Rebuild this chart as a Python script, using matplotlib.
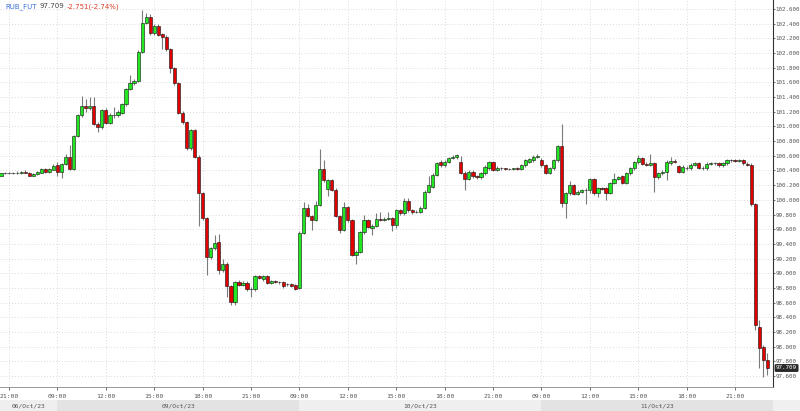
import numpy as np
import matplotlib
matplotlib.use("Agg")
import matplotlib.pyplot as plt
import matplotlib.transforms as mtransforms

# 15-minute candles, overnight gaps removed (index = candle number)
opens = [
    100.33, 100.36, 100.37, 100.36, 100.37, 100.36, 100.38, 100.37, 100.33, 100.35,
    100.37, 100.42, 100.38, 100.41,
    100.47, 100.38, 100.49, 100.59, 100.42, 100.87, 101.15, 101.28, 101.25, 101.28,
    101.04, 100.99, 101.23, 101.05, 101.16, 101.15, 101.19, 101.30, 101.51, 101.59,
    101.62, 102.02, 102.41, 102.49, 102.27, 102.37, 102.26, 102.22, 102.05, 101.79,
    101.59, 101.19, 101.06, 100.70, 100.95, 100.59, 100.09, 99.75, 99.22, 99.34,
    99.43, 99.04, 99.13, 98.82, 98.61, 98.88, 98.84, 98.87, 98.79, 98.78,
    98.96, 98.92, 98.96, 98.87, 98.89, 98.88, 98.88, 98.85, 98.86, 98.84,
    98.80, 99.55, 99.89, 99.78, 99.73, 99.93, 100.42, 100.15, 100.27, 100.14,
    99.78, 99.59, 99.90, 99.72, 99.25, 99.29, 99.56, 99.72, 99.62, 99.65,
    99.74, 99.73, 99.74, 99.75, 99.66, 99.86, 99.82, 99.98, 99.86, 99.83,
    99.84, 99.89, 100.11, 100.18, 100.34, 100.52, 100.47, 100.52, 100.57, 100.58,
    100.52, 100.37, 100.29, 100.38, 100.32, 100.31, 100.36, 100.43, 100.51, 100.41,
    100.43, 100.43, 100.42, 100.42, 100.43, 100.42, 100.47, 100.52, 100.54, 100.59,
    100.54, 100.47, 100.37, 100.43, 100.54, 100.73, 99.96, 100.09, 100.20, 100.08,
    100.11, 100.13, 100.13, 100.28, 100.09, 100.16, 100.16, 100.10, 100.23, 100.29,
    100.32, 100.23, 100.36, 100.43, 100.51, 100.57, 100.49, 100.48, 100.50, 100.31,
    100.36, 100.38, 100.50, 100.53, 100.46, 100.38, 100.44, 100.43, 100.48, 100.50,
    100.44, 100.43, 100.49, 100.50, 100.50, 100.47, 100.50, 100.54, 100.54, 100.53,
    100.54, 100.49, 100.48, 99.94, 98.27, 98.00, 97.82,
]
highs = [
    100.37, 100.38, 100.38, 100.38, 100.39, 100.39, 100.40, 100.38, 100.36, 100.39,
    100.43, 100.43, 100.43, 100.49,
    100.52, 100.50, 100.63, 100.75, 100.88, 101.17, 101.41, 101.37, 101.40, 101.40,
    101.06, 101.24, 101.25, 101.18, 101.27, 101.22, 101.32, 101.53, 101.70, 101.64,
    102.04, 102.59, 102.54, 102.53, 102.39, 102.40, 102.28, 102.24, 102.07, 101.81,
    101.61, 101.21, 101.08, 100.97, 100.97, 100.61, 100.11, 99.77, 99.36, 99.52,
    99.54, 99.20, 99.15, 98.84, 98.90, 98.91, 98.89, 98.89, 98.81, 98.98,
    98.98, 98.98, 98.98, 98.91, 98.91, 98.90, 98.90, 98.87, 98.87, 98.85,
    99.57, 99.97, 99.95, 99.80, 99.98, 100.69, 100.54, 100.29, 100.29, 100.16,
    99.80, 99.97, 99.92, 99.74, 99.31, 99.58, 99.80, 99.74, 99.67, 99.82,
    99.84, 99.76, 99.84, 99.77, 99.88, 99.88, 100.02, 100.02, 99.88, 99.86,
    99.91, 100.13, 100.32, 100.36, 100.52, 100.54, 100.54, 100.59, 100.61, 100.63,
    100.60, 100.39, 100.40, 100.40, 100.34, 100.38, 100.47, 100.53, 100.53, 100.46,
    100.45, 100.44, 100.44, 100.44, 100.45, 100.49, 100.56, 100.57, 100.61, 100.62,
    100.57, 100.49, 100.45, 100.56, 100.75, 101.04, 100.11, 100.26, 100.22, 100.13,
    100.15, 100.16, 100.30, 100.30, 100.18, 100.18, 100.18, 100.25, 100.36, 100.33,
    100.34, 100.38, 100.45, 100.53, 100.61, 100.59, 100.51, 100.63, 100.52, 100.38,
    100.40, 100.54, 100.58, 100.55, 100.48, 100.47, 100.46, 100.50, 100.52, 100.52,
    100.46, 100.51, 100.52, 100.52, 100.52, 100.52, 100.56, 100.56, 100.56, 100.55,
    100.56, 100.51, 100.50, 99.96, 98.36, 98.02, 97.92,
]
lows = [
    100.32, 100.35, 100.35, 100.35, 100.35, 100.35, 100.36, 100.32, 100.32, 100.34,
    100.36, 100.37, 100.37, 100.40,
    100.33, 100.30, 100.47, 100.40, 100.40, 100.85, 101.13, 101.20, 101.23, 101.02,
    100.92, 100.97, 101.03, 101.03, 101.11, 101.13, 101.17, 101.28, 101.49, 101.57,
    101.60, 102.00, 102.39, 102.25, 102.25, 102.23, 102.05, 102.03, 101.73, 101.57,
    101.17, 101.04, 100.68, 100.68, 100.57, 99.65, 99.73, 98.97, 99.20, 99.32,
    98.99, 99.02, 98.68, 98.57, 98.57, 98.83, 98.82, 98.76, 98.68, 98.76,
    98.92, 98.90, 98.85, 98.85, 98.87, 98.86, 98.80, 98.83, 98.81, 98.77,
    98.78, 99.53, 99.76, 99.59, 99.71, 99.91, 100.25, 100.05, 100.12, 99.76,
    99.55, 99.57, 99.70, 99.23, 99.13, 99.27, 99.54, 99.61, 99.52, 99.63,
    99.71, 99.71, 99.72, 99.58, 99.61, 99.80, 99.80, 99.84, 99.81, 99.82,
    99.82, 99.87, 100.09, 100.16, 100.32, 100.45, 100.45, 100.50, 100.55, 100.56,
    100.35, 100.13, 100.27, 100.30, 100.29, 100.29, 100.34, 100.41, 100.39, 100.39,
    100.41, 100.41, 100.40, 100.41, 100.41, 100.41, 100.45, 100.50, 100.52, 100.57,
    100.45, 100.35, 100.35, 100.41, 100.52, 99.90, 99.75, 100.07, 100.06, 100.06,
    100.09, 99.95, 100.10, 100.07, 100.04, 100.13, 100.00, 100.08, 100.21, 100.27,
    100.21, 100.21, 100.34, 100.41, 100.49, 100.47, 100.46, 100.46, 100.11, 100.29,
    100.34, 100.27, 100.48, 100.50, 100.36, 100.36, 100.41, 100.41, 100.46, 100.42,
    100.41, 100.41, 100.47, 100.48, 100.45, 100.45, 100.48, 100.52, 100.51, 100.52,
    100.48, 100.46, 99.92, 98.23, 97.71, 97.59, 97.62,
]
closes = [
    100.36, 100.37, 100.36, 100.37, 100.36, 100.38, 100.37, 100.33, 100.35, 100.38,
    100.42, 100.38, 100.42, 100.46,
    100.38, 100.49, 100.59, 100.42, 100.87, 101.15, 101.28, 101.25, 101.28, 101.04,
    100.99, 101.22, 101.05, 101.16, 101.15, 101.20, 101.30, 101.51, 101.59, 101.62,
    102.02, 102.41, 102.49, 102.27, 102.37, 102.25, 102.22, 102.05, 101.79, 101.59,
    101.19, 101.06, 100.70, 100.95, 100.59, 100.09, 99.75, 99.22, 99.34, 99.41,
    99.04, 99.13, 98.82, 98.61, 98.88, 98.84, 98.87, 98.78, 98.78, 98.96,
    98.94, 98.96, 98.87, 98.89, 98.88, 98.88, 98.82, 98.85, 98.82, 98.79,
    99.55, 99.89, 99.78, 99.73, 99.93, 100.42, 100.27, 100.27, 100.14, 99.78,
    99.59, 99.90, 99.72, 99.25, 99.29, 99.56, 99.72, 99.63, 99.65, 99.74,
    99.73, 99.74, 99.75, 99.66, 99.86, 99.82, 99.98, 99.86, 99.83, 99.84,
    99.89, 100.11, 100.20, 100.34, 100.50, 100.47, 100.52, 100.57, 100.59, 100.61,
    100.37, 100.29, 100.38, 100.32, 100.31, 100.36, 100.45, 100.51, 100.41, 100.44,
    100.43, 100.42, 100.42, 100.43, 100.42, 100.47, 100.54, 100.55, 100.59, 100.60,
    100.47, 100.37, 100.43, 100.54, 100.73, 99.96, 100.09, 100.20, 100.08, 100.11,
    100.13, 100.14, 100.28, 100.09, 100.16, 100.15, 100.10, 100.23, 100.29, 100.31,
    100.23, 100.36, 100.43, 100.51, 100.57, 100.49, 100.48, 100.50, 100.31, 100.36,
    100.38, 100.52, 100.53, 100.52, 100.38, 100.45, 100.43, 100.48, 100.50, 100.44,
    100.43, 100.49, 100.50, 100.50, 100.47, 100.50, 100.54, 100.54, 100.53, 100.54,
    100.50, 100.48, 99.94, 98.30, 97.98, 97.82, 97.709,
]

tick_pos = [2, 14, 26, 38, 50, 62, 74, 86, 98, 110, 122, 134, 146, 158, 170, 182]
tick_labels = ["21:00", "09:00", "12:00", "15:00", "18:00", "21:00",
               "09:00", "12:00", "15:00", "18:00", "21:00",
               "09:00", "12:00", "15:00", "18:00", "21:00"]
day_starts = [-0.25, 14, 74, 134]
day_labels = ["06/Oct/23", "09/Oct/23", "10/Oct/23", "11/Oct/23"]

symbol = "RUB_FUT"
last_price = "97.709"
change_text = "-2.751(-2.74%)"

UP = "#22e622"
DOWN = "#e00000"

o = np.array(opens)
h = np.array(highs)
l = np.array(lows)
c = np.array(closes)
idx = np.arange(len(o))

W, H = 800, 411
fig = plt.figure(figsize=(W / 100, H / 100), dpi=100)
ax = fig.add_axes([0, 24 / H, 773 / W, 1 - 24 / H])

xlim = (-0.25, 191.4)
ax.set_xlim(*xlim)
ax.set_ylim(97.45, 102.723)

# wicks
ax.vlines(idx, l, h, color="#7a7a7a", lw=0.8, zorder=2)

# bodies
colors = np.where(c > o, UP, np.where(c < o, DOWN, "#222222"))
bottoms = np.minimum(o, c)
heights = np.maximum(np.abs(c - o), 0.004)
ax.bar(idx, heights, bottom=bottoms, width=0.8, color=colors,
       edgecolor="#111111", linewidth=0.4, zorder=3)

# grid
ax.grid(True, color="#cfcfcf", lw=0.6, ls=(0, (1, 2.5)), zorder=0)
ax.set_axisbelow(True)

yt = np.round(np.arange(97.6, 102.61, 0.2), 1)
ax.set_yticks(yt)
ax.set_yticklabels([f"{v:.3f}" for v in yt])
ax.yaxis.tick_right()
ax.set_xticks(tick_pos)
ax.set_xticklabels(tick_labels)
ax.tick_params(axis="both", colors="#555555", labelsize=4.6, length=2.2,
               width=0.6, labelcolor="#555555")
ax.tick_params(axis="y", labelsize=4.2, length=1.6, pad=0.4)
ax.tick_params(axis="x", pad=2.8)
for lab in ax.get_xticklabels() + ax.get_yticklabels():
    lab.set_family("DejaVu Sans Mono")

for s in ["top", "left"]:
    ax.spines[s].set_visible(False)
ax.spines["right"].set_color("#333333")
ax.spines["bottom"].set_color("#888888")
ax.spines["right"].set_linewidth(0.8)
ax.spines["bottom"].set_linewidth(0.6)

# last price box on the axis
trans = mtransforms.blended_transform_factory(ax.transAxes, ax.transData)
ax.text(1.004, c[-1], last_price, transform=trans, ha="left", va="center",
        fontsize=4.2, color="white", family="DejaVu Sans Mono", clip_on=False,
        bbox=dict(boxstyle="round,pad=0.25", fc="#2a2a2a", ec="none"), zorder=5)

# header: three coloured parts chained one after another
t1 = fig.text(5 / W, 1 - 6.5 / H, symbol, color="#3a6fd8", fontsize=5.0,
              va="center", ha="left")
a2 = ax.annotate(last_price, xy=(1, 0.5), xycoords=t1, xytext=(2.5, 0),
                 textcoords="offset points", va="center", ha="left",
                 fontsize=5.0, color="#444444", annotation_clip=False)
a3 = ax.annotate(change_text, xy=(1, 0.5), xycoords=a2, xytext=(1.5, 0),
                 textcoords="offset points", va="center", ha="left",
                 fontsize=5.0, color="#e2402a", annotation_clip=False)

# date band
band = fig.add_axes([0, 0, 1, 11 / H])
band_right = xlim[0] + (xlim[1] - xlim[0]) * W / 773
band.set_xlim(xlim[0], band_right)
band.set_ylim(0, 1)
band.axis("off")
band.axvspan(xlim[0], band_right, color="#f0f0f0", lw=0)
ends = day_starts[1:] + [xlim[1]]
for k, (a, b) in enumerate(zip(day_starts, ends)):
    band.axvspan(a, b, color="#e3e3e3" if k % 2 == 1 else "#efefef", lw=0)
    band.text((a + b) / 2, 0.45, day_labels[k], ha="center", va="center",
              fontsize=4.5, color="#555555", family="DejaVu Sans Mono")

fig.savefig("out.png", dpi=100)
